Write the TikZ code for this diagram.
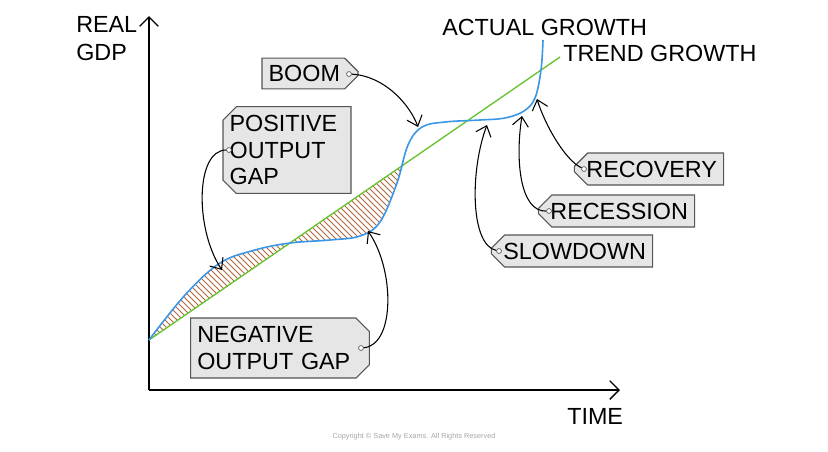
\documentclass[tikz,border=0pt]{standalone}
\usepackage{fontspec}
\setmainfont{Liberation Sans}
\usetikzlibrary{shapes.misc,arrows.meta}
\definecolor{tagfill}{HTML}{E6E6E6}
\definecolor{tagline}{HTML}{555555}
\definecolor{curveblue}{HTML}{3C96E6}
\definecolor{trendgreen}{HTML}{66C22E}
\definecolor{hatch}{HTML}{B0663A}
\begin{document}
\begin{tikzpicture}[x=0.75pt,y=-0.75pt,
  lbl/.style={font=\fontsize{17.5}{20}\selectfont, inner sep=0pt},
  tagbox/.style={chamfered rectangle, chamfered rectangle xsep=5pt, chamfered rectangle ysep=5pt,
    draw=tagline, fill=tagfill, line width=0.8pt, font=\fontsize{17.5}{20}\selectfont, align=left, inner sep=0pt},
  hole/.style={draw=tagline, fill=white, circle, inner sep=1.3pt, line width=0.5pt},
  pointer/.style={line width=0.8pt, -{Straight Barb[length=7pt,width=12pt]}},
  axis/.style={line width=1pt, -{Straight Barb[length=7pt,width=14pt]}}]
\useasboundingbox (0,0) rectangle (828,451);
% hatching
\begin{scope}
\clip plot[smooth, tension=0.6] coordinates {(149,340) (185,295) (220,263) (255,250) (290,243) (330,240) (360,236) (380,222) (397,183) (401,167)} -- cycle;
\foreach \i in {-300,-294,...,300} {
  \draw[hatch, line width=0.7pt] (149+\i,160) -- (149+\i+200,360);
}
\end{scope}
% axes
\coordinate (o) at (149,390);
\coordinate (ytop) at (149,16);
\coordinate (xend) at (620,390);
\draw[axis] (o) -- (ytop);
\draw[axis] (o) -- (xend);
% trend and actual
\coordinate (t0) at (149,340);
\coordinate (t1) at (560,57);
\draw[trendgreen, line width=1pt] (t0) -- (t1);
\draw[curveblue, line width=1.2pt] plot[smooth, tension=0.6] coordinates {(149,340) (185,295) (220,263) (255,250) (290,243) (330,240) (360,236) (380,222) (397,183) (408,145) (422,127) (445,122) (480,120) (505,118) (524,111) (535,98) (541,70) (543,40)};
% texts
\node[lbl, anchor=west] (real) at (76,24) {REAL};
\node[lbl, anchor=west] (gdp) at (76,52) {GDP};
\node[lbl, anchor=west] (actual) at (442,27) {ACTUAL GROWTH};
\node[lbl, anchor=west] (trend) at (563,53) {TREND GROWTH};
\node[lbl, anchor=west] (time) at (567,416) {TIME};
\node[font=\fontsize{5.5}{6}\selectfont, text=gray!70, inner sep=0pt] (copy) at (414,437) {Copyright © Save My Exams. All Rights Reserved};
% tags
\node[tagbox, chamfered rectangle corners={north east,south east}, minimum width=68pt, minimum height=23pt, text width=62pt] (boom) at (310,73.5) {BOOM};
\node[tagbox, chamfered rectangle corners={north west,south west}, minimum width=96pt, minimum height=65pt, text width=86pt] (pos) at (287,150) {POSITIVE\\OUTPUT\\GAP};
\node[tagbox, chamfered rectangle corners={north east,south east}, minimum width=131pt, minimum height=45pt, text width=124pt] (neg) at (280,348) {NEGATIVE\\OUTPUT GAP};
\node[tagbox, chamfered rectangle corners={north west,south west}, minimum width=107pt, minimum height=24pt] (rec) at (649,169) {\hspace*{4pt}RECOVERY};
\node[tagbox, chamfered rectangle corners={north west,south west}, minimum width=110pt, minimum height=24pt] (ress) at (616.5,211) {\hspace*{4pt}RECESSION};
\node[tagbox, chamfered rectangle corners={north west,south west}, minimum width=118pt, minimum height=24pt] (slow) at (572,251) {\hspace*{4pt}SLOWDOWN};
% holes
\node[hole] (hb) at (349,74) {};
\node[hole] (hp) at (229,150) {};
\node[hole] (hn) at (361,348) {};
\node[hole] (hr) at (584,169) {};
\node[hole] (hs) at (549,211) {};
\node[hole] (hw) at (499,251) {};
% targets
\coordinate (pb) at (418,127);
\coordinate (pp) at (222,270);
\coordinate (pn) at (368,231);
\coordinate (pr) at (537,99);
\coordinate (ps) at (522,116);
\coordinate (pw) at (487,125);
% pointers
\draw[pointer] (hb) .. controls (385,76) and (410,105) .. (pb);
\draw[pointer] (hp) .. controls (195,150) and (195,230) .. (pp);
\draw[pointer] (hn) .. controls (395,345) and (395,270) .. (pn);
\draw[pointer] (hr) .. controls (565,160) and (545,125) .. (pr);
\draw[pointer] (hs) .. controls (520,212) and (515,160) .. (ps);
\draw[pointer] (hw) .. controls (470,245) and (470,170) .. (pw);
\end{tikzpicture}
\end{document}
